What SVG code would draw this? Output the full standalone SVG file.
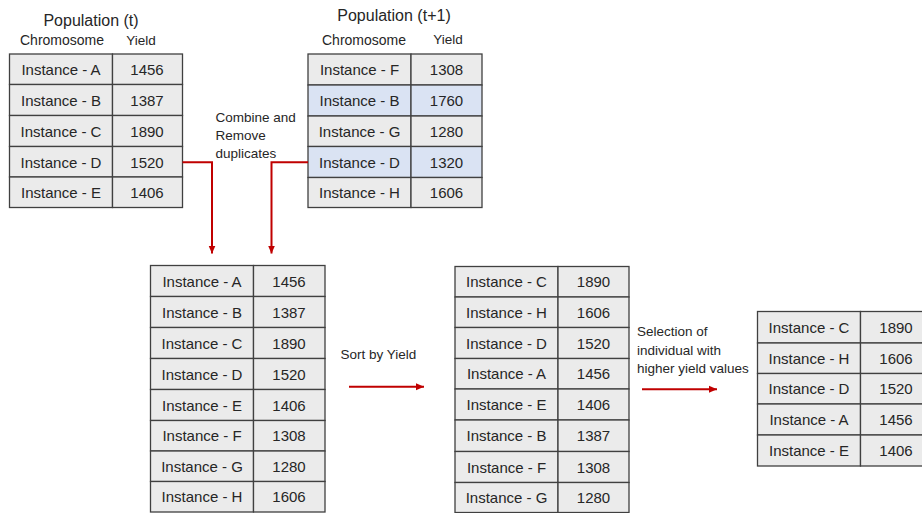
<svg xmlns="http://www.w3.org/2000/svg" width="922" height="513" viewBox="0 0 922 513">
<defs>
<style>
.c{fill:#ebebeb;stroke:#404040;stroke-width:1.3}
.h{fill:#dae3f3;stroke:#404040;stroke-width:1.3}
.t{font-family:"Liberation Sans",Arial,sans-serif;font-size:15px;fill:#262626;text-anchor:middle}
.hd{font-family:"Liberation Sans",Arial,sans-serif;fill:#262626;text-anchor:middle}
.lb{font-family:"Liberation Sans",Arial,sans-serif;font-size:13.5px;fill:#262626}
.con{fill:none;stroke:#c00000;stroke-width:2}
</style>
<marker id="arr" markerUnits="userSpaceOnUse" markerWidth="8" markerHeight="8" refX="8" refY="4" orient="auto">
<path d="M0,0.5 L8,4 L0,7.5 z" fill="#c00000"/>
</marker>
</defs>
<rect width="922" height="513" fill="#ffffff"/>

<g id="table-pop-t">
<text class="hd" x="91" y="26" font-size="16">Population (t)</text>
<text class="hd" x="62" y="45" font-size="14">Chromosome</text>
<text class="hd" x="141" y="45" font-size="13.5">Yield</text>
<rect class="c" x="9.5" y="54" width="103" height="30.5"/><rect class="c" x="112.5" y="54" width="70" height="30.5"/>
<rect class="c" x="9.5" y="84.5" width="103" height="31"/><rect class="c" x="112.5" y="84.5" width="70" height="31"/>
<rect class="c" x="9.5" y="115.5" width="103" height="31"/><rect class="c" x="112.5" y="115.5" width="70" height="31"/>
<rect class="c" x="9.5" y="146.5" width="103" height="30.5"/><rect class="c" x="112.5" y="146.5" width="70" height="30.5"/>
<rect class="c" x="9.5" y="177" width="103" height="30.5"/><rect class="c" x="112.5" y="177" width="70" height="30.5"/>
<text class="t" x="61" y="75">Instance - A</text><text class="t" x="147" y="75">1456</text>
<text class="t" x="61" y="105.5">Instance - B</text><text class="t" x="147" y="105.5">1387</text>
<text class="t" x="61" y="136.5">Instance - C</text><text class="t" x="147" y="136.5">1890</text>
<text class="t" x="61" y="167.5">Instance - D</text><text class="t" x="147" y="167.5">1520</text>
<text class="t" x="61" y="197.5">Instance - E</text><text class="t" x="147" y="197.5">1406</text>
</g>

<g id="table-pop-t1">
<text class="hd" x="394" y="21" font-size="16">Population (t+1)</text>
<text class="hd" x="364" y="45" font-size="14">Chromosome</text>
<text class="hd" x="448" y="43.5" font-size="13.5">Yield</text>
<rect class="c" x="308" y="54" width="103" height="31"/><rect class="c" x="411" y="54" width="71" height="31"/>
<rect class="h" x="308" y="85" width="103" height="31"/><rect class="h" x="411" y="85" width="71" height="31"/>
<rect class="c" x="308" y="116" width="103" height="30.5"/><rect class="c" x="411" y="116" width="71" height="30.5"/>
<rect class="h" x="308" y="146.5" width="103" height="31"/><rect class="h" x="411" y="146.5" width="71" height="31"/>
<rect class="c" x="308" y="177.5" width="103" height="30"/><rect class="c" x="411" y="177.5" width="71" height="30"/>
<text class="t" x="359.5" y="75">Instance - F</text><text class="t" x="446.5" y="75">1308</text>
<text class="t" x="359.5" y="106">Instance - B</text><text class="t" x="446.5" y="106">1760</text>
<text class="t" x="359.5" y="136.5">Instance - G</text><text class="t" x="446.5" y="136.5">1280</text>
<text class="t" x="359.5" y="167.5">Instance - D</text><text class="t" x="446.5" y="167.5">1320</text>
<text class="t" x="359.5" y="198">Instance - H</text><text class="t" x="446.5" y="198">1606</text>
</g>

<g id="table-combined">
<rect class="c" x="150.5" y="265.5" width="103" height="31"/><rect class="c" x="253.5" y="265.5" width="71.5" height="31"/>
<rect class="c" x="150.5" y="296.5" width="103" height="31"/><rect class="c" x="253.5" y="296.5" width="71.5" height="31"/>
<rect class="c" x="150.5" y="327.5" width="103" height="31"/><rect class="c" x="253.5" y="327.5" width="71.5" height="31"/>
<rect class="c" x="150.5" y="358.5" width="103" height="31"/><rect class="c" x="253.5" y="358.5" width="71.5" height="31"/>
<rect class="c" x="150.5" y="389.5" width="103" height="31"/><rect class="c" x="253.5" y="389.5" width="71.5" height="31"/>
<rect class="c" x="150.5" y="420.5" width="103" height="30.5"/><rect class="c" x="253.5" y="420.5" width="71.5" height="30.5"/>
<rect class="c" x="150.5" y="451" width="103" height="30.5"/><rect class="c" x="253.5" y="451" width="71.5" height="30.5"/>
<rect class="c" x="150.5" y="481.5" width="103" height="30.5"/><rect class="c" x="253.5" y="481.5" width="71.5" height="30.5"/>
<text class="t" x="202" y="286.5">Instance - A</text><text class="t" x="289" y="286.5">1456</text>
<text class="t" x="202" y="317.5">Instance - B</text><text class="t" x="289" y="317.5">1387</text>
<text class="t" x="202" y="348.5">Instance - C</text><text class="t" x="289" y="348.5">1890</text>
<text class="t" x="202" y="379.5">Instance - D</text><text class="t" x="289" y="379.5">1520</text>
<text class="t" x="202" y="410.5">Instance - E</text><text class="t" x="289" y="410.5">1406</text>
<text class="t" x="202" y="441">Instance - F</text><text class="t" x="289" y="441">1308</text>
<text class="t" x="202" y="471.5">Instance - G</text><text class="t" x="289" y="471.5">1280</text>
<text class="t" x="202" y="502">Instance - H</text><text class="t" x="289" y="502">1606</text>
</g>

<g id="table-sorted">
<rect class="c" x="455" y="266.5" width="103" height="30.5"/><rect class="c" x="558" y="266.5" width="71" height="30.5"/>
<rect class="c" x="455" y="297" width="103" height="30.5"/><rect class="c" x="558" y="297" width="71" height="30.5"/>
<rect class="c" x="455" y="327.5" width="103" height="31"/><rect class="c" x="558" y="327.5" width="71" height="31"/>
<rect class="c" x="455" y="358.5" width="103" height="30.5"/><rect class="c" x="558" y="358.5" width="71" height="30.5"/>
<rect class="c" x="455" y="389" width="103" height="31"/><rect class="c" x="558" y="389" width="71" height="31"/>
<rect class="c" x="455" y="420" width="103" height="31.5"/><rect class="c" x="558" y="420" width="71" height="31.5"/>
<rect class="c" x="455" y="451.5" width="103" height="31"/><rect class="c" x="558" y="451.5" width="71" height="31"/>
<rect class="c" x="455" y="482.5" width="103" height="30"/><rect class="c" x="558" y="482.5" width="71" height="30"/>
<text class="t" x="506.5" y="287">Instance - C</text><text class="t" x="593.5" y="287">1890</text>
<text class="t" x="506.5" y="317.5">Instance - H</text><text class="t" x="593.5" y="317.5">1606</text>
<text class="t" x="506.5" y="348.5">Instance - D</text><text class="t" x="593.5" y="348.5">1520</text>
<text class="t" x="506.5" y="379">Instance - A</text><text class="t" x="593.5" y="379">1456</text>
<text class="t" x="506.5" y="410">Instance - E</text><text class="t" x="593.5" y="410">1406</text>
<text class="t" x="506.5" y="441">Instance - B</text><text class="t" x="593.5" y="441">1387</text>
<text class="t" x="506.5" y="472.5">Instance - F</text><text class="t" x="593.5" y="472.5">1308</text>
<text class="t" x="506.5" y="503">Instance - G</text><text class="t" x="593.5" y="503">1280</text>
</g>

<g id="table-selected">
<rect class="c" x="757.5" y="311.5" width="103" height="31.5"/><rect class="c" x="860.5" y="311.5" width="70" height="31.5"/>
<rect class="c" x="757.5" y="343" width="103" height="30.5"/><rect class="c" x="860.5" y="343" width="70" height="30.5"/>
<rect class="c" x="757.5" y="373.5" width="103" height="30.5"/><rect class="c" x="860.5" y="373.5" width="70" height="30.5"/>
<rect class="c" x="757.5" y="404" width="103" height="31"/><rect class="c" x="860.5" y="404" width="70" height="31"/>
<rect class="c" x="757.5" y="435" width="103" height="31"/><rect class="c" x="860.5" y="435" width="70" height="31"/>
<text class="t" x="809" y="333">Instance - C</text><text class="t" x="896" y="333">1890</text>
<text class="t" x="809" y="364">Instance - H</text><text class="t" x="896" y="364">1606</text>
<text class="t" x="809" y="394">Instance - D</text><text class="t" x="896" y="394">1520</text>
<text class="t" x="809" y="425">Instance - A</text><text class="t" x="896" y="425">1456</text>
<text class="t" x="809" y="456">Instance - E</text><text class="t" x="896" y="456">1406</text>
</g>

<g id="labels">
<text class="lb" x="215.5" y="121.5">Combine and</text>
<text class="lb" x="215.5" y="140">Remove</text>
<text class="lb" x="215.5" y="157.5">duplicates</text>
<text class="lb" x="340.5" y="358.5" font-size="13">Sort by Yield</text>
<text class="lb" x="637" y="336">Selection of</text>
<text class="lb" x="637" y="354.5">individual with</text>
<text class="lb" x="637" y="373">higher yield values</text>
</g>

<g id="connectors">
<polyline class="con" points="182.5,162.3 212,162.3 212,253.5" marker-end="url(#arr)"/>
<polyline class="con" points="308,162.3 271.5,162.3 271.5,253.5" marker-end="url(#arr)"/>
<line class="con" x1="349" y1="386.7" x2="424" y2="386.7" marker-end="url(#arr)"/>
<line class="con" x1="642" y1="389.3" x2="717" y2="389.3" marker-end="url(#arr)"/>
</g>
</svg>
